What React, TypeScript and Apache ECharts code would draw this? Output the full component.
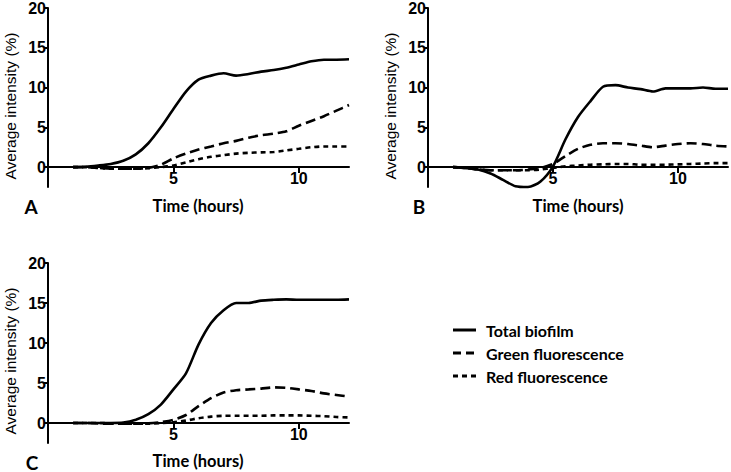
import React, { useEffect, useRef } from "react";
import * as echarts from "echarts";

const TIME = [1, 1.5, 2, 2.5, 3, 3.5, 4, 4.5, 5, 5.5, 6, 6.5, 7, 7.5, 8, 8.5, 9, 9.5, 10, 10.5, 11, 11.5, 12];

const A_TOTAL = [0, 0.05, 0.2, 0.4, 0.8, 1.6, 3.0, 5.0, 7.3, 9.5, 11.0, 11.5, 11.8, 11.5, 11.7, 12.0, 12.2, 12.5, 12.9, 13.3, 13.5, 13.5, 13.55];
const A_GREEN = [0, 0, -0.1, -0.2, -0.2, -0.2, -0.1, 0.3, 1.1, 1.7, 2.2, 2.6, 3.0, 3.3, 3.7, 4.0, 4.2, 4.5, 5.2, 5.8, 6.4, 7.1, 7.8];
const A_RED = [0, 0, -0.1, -0.2, -0.2, -0.2, -0.15, 0, 0.2, 0.6, 1.0, 1.3, 1.5, 1.7, 1.8, 1.85, 1.9, 2.1, 2.3, 2.5, 2.6, 2.6, 2.6];

const B_TOTAL = [0, -0.1, -0.3, -0.8, -1.6, -2.4, -2.5, -1.8, 0.1, 3.5, 6.3, 8.3, 10.1, 10.3, 10.0, 9.8, 9.5, 9.9, 9.9, 9.9, 10.0, 9.85, 9.85];
const B_GREEN = [0, -0.1, -0.3, -0.4, -0.4, -0.4, -0.3, -0.1, 0.4, 1.4, 2.3, 2.8, 3.0, 3.0, 2.9, 2.7, 2.5, 2.7, 2.9, 3.0, 2.9, 2.7, 2.6];
const B_RED = [0, -0.1, -0.3, -0.4, -0.4, -0.4, -0.4, -0.3, -0.1, 0.1, 0.2, 0.3, 0.35, 0.4, 0.4, 0.3, 0.3, 0.3, 0.35, 0.4, 0.45, 0.5, 0.5];

const C_TOTAL = [0, 0, 0, 0, 0.05, 0.4, 1.1, 2.3, 4.2, 6.2, 9.8, 12.5, 14.1, 15.0, 15.0, 15.3, 15.4, 15.45, 15.4, 15.4, 15.4, 15.4, 15.45];
const C_GREEN = [0, 0, -0.05, -0.1, -0.1, -0.1, -0.05, 0.1, 0.4, 1.0, 2.1, 3.1, 3.8, 4.1, 4.2, 4.3, 4.45, 4.4, 4.2, 4.0, 3.7, 3.5, 3.3];
const C_RED = [0, 0, 0, -0.05, -0.1, -0.1, -0.1, 0, 0.1, 0.3, 0.6, 0.8, 0.9, 0.9, 0.9, 0.9, 0.95, 0.95, 0.95, 0.9, 0.85, 0.75, 0.7];

const Y_TICKS = [0, 5, 10, 15, 20];
const X_TICKS = [5, 10];
const Y_MIN = -2.5;
const Y_MAX = 20;
const X_MIN = 0;
const X_MAX = 12;
const SERIES_NAMES = ["Total biofilm", "Green fluorescence", "Red fluorescence"];
const PANEL_LETTERS = ["A", "B", "C"];
const X_TITLE = "Time (hours)";
const Y_TITLE = "Average intensity (%)";

const PANELS = [
  [A_TOTAL, A_GREEN, A_RED],
  [B_TOTAL, B_GREEN, B_RED],
  [C_TOTAL, C_GREEN, C_RED],
];

const DASHES: any[] = ["solid", [10, 5], [5, 4]];
const LEGEND_DASHES: any[] = [null, [8, 5], [5, 4]];

const GRIDS = [
  { left: 48, top: 8, width: 301, height: 179 },
  { left: 428, top: 8, width: 300, height: 179 },
  { left: 48, top: 263, width: 301, height: 180 },
];

const TICK_FONT = "Liberation Sans";
const TITLE_FONT = "Lato";

export default function App() {
  const ref = useRef<HTMLDivElement>(null);
  useEffect(() => {
    document.body.style.margin = "0";
    const chart = echarts.init(ref.current!, null, { renderer: "svg" });

    const xAxes = GRIDS.map((g, i) => ({
      type: "value",
      gridIndex: i,
      position: "bottom",
      min: X_MIN,
      max: X_MAX,
      offset: -((0 - Y_MIN) / (Y_MAX - Y_MIN)) * g.height,
      axisLine: { onZero: false, lineStyle: { color: "#000", width: 2 } },
      axisTick: { show: true, length: 6, customValues: X_TICKS, lineStyle: { color: "#000", width: 2 } },
      axisLabel: {
        color: "#000",
        fontFamily: TICK_FONT,
        fontWeight: "bold",
        fontSize: 16,
        margin: 3,
        customValues: X_TICKS,
      },
      splitLine: { show: false },
    }));

    const yAxes = GRIDS.map((_, i) => ({
      type: "value",
      gridIndex: i,
      min: Y_MIN,
      max: Y_MAX,
      axisLine: { show: true, onZero: false, lineStyle: { color: "#000", width: 2 } },
      axisTick: { show: true, length: 4, customValues: Y_TICKS, lineStyle: { color: "#000", width: 2 } },
      axisLabel: {
        color: "#000",
        fontFamily: TICK_FONT,
        fontWeight: "bold",
        fontSize: 16,
        margin: 2,
        customValues: Y_TICKS,
      },
      splitLine: { show: false },
    }));

    const series: any[] = [];
    PANELS.forEach((panel, p) => {
      panel.forEach((vals, k) => {
        series.push({
          type: "line",
          name: SERIES_NAMES[k],
          xAxisIndex: p,
          yAxisIndex: p,
          data: TIME.map((t, i) => [t, vals[i]]),
          showSymbol: false,
          smooth: 0.25,
          clip: false,
          lineStyle: { color: "#000", width: 2.6, type: DASHES[k] },
        });
      });
    });

    const graphic: any[] = [];
    const titlePos = [
      { lx: 31, ly: 206, tx: 198, ty: 206, yx: 10, yy: 106 },
      { lx: 419, ly: 206, tx: 578, ty: 206, yx: 390, yy: 106 },
      { lx: 32, ly: 462, tx: 198, ty: 461, yx: 10, yy: 361 },
    ];
    titlePos.forEach((tp, i) => {
      graphic.push({
        type: "text",
        x: tp.lx,
        y: tp.ly,
        style: { text: PANEL_LETTERS[i], font: `bold 19px ${TITLE_FONT}`, fill: "#000", textAlign: "center", textVerticalAlign: "middle" },
      });
      graphic.push({
        type: "text",
        x: tp.tx,
        y: tp.ty,
        style: { text: X_TITLE, font: `bold 16.5px ${TITLE_FONT}`, fill: "#000", textAlign: "center", textVerticalAlign: "middle" },
      });
      graphic.push({
        type: "text",
        x: tp.yx,
        y: tp.yy,
        rotation: Math.PI / 2,
        style: { text: Y_TITLE, font: `15.5px ${TICK_FONT}`, fill: "#000", textAlign: "center", textVerticalAlign: "middle" },
      });
    });

    SERIES_NAMES.forEach((name, k) => {
      const y = 330 + k * 23;
      graphic.push({
        type: "line",
        shape: { x1: 453, y1: y, x2: 476, y2: y },
        style: { stroke: "#000", lineWidth: 3, lineDash: LEGEND_DASHES[k] },
      });
      graphic.push({
        type: "text",
        x: 486,
        y,
        style: { text: name, font: `bold 16px ${TITLE_FONT}`, fill: "#000", textAlign: "left", textVerticalAlign: "middle" },
      });
    });

    chart.setOption({
      animation: false,
      backgroundColor: "#fff",
      grid: GRIDS.map((g) => ({ ...g, containLabel: false })),
      xAxis: xAxes,
      yAxis: yAxes,
      series,
      graphic,
    });
    return () => chart.dispose();
  }, []);
  return <div ref={ref} style={{ width: 731, height: 472 }} />;
}
